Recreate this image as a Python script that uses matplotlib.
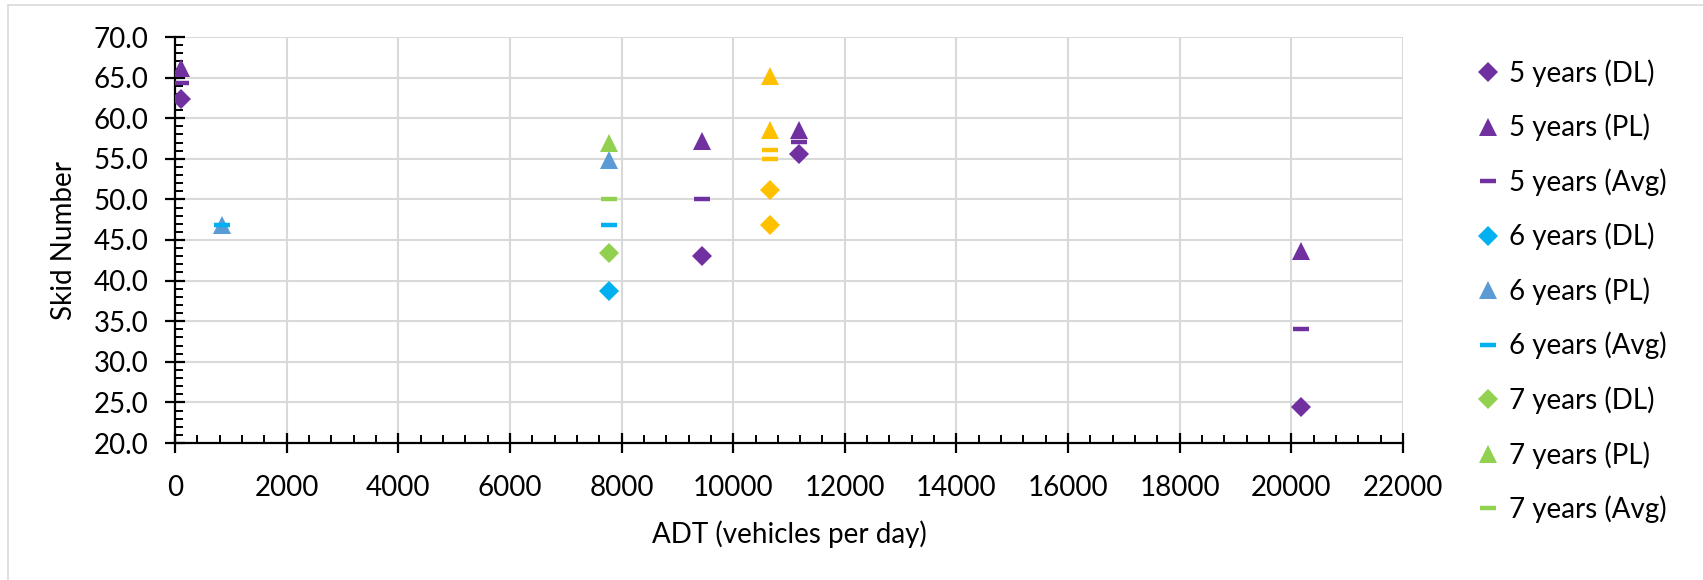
import matplotlib
matplotlib.use("Agg")
import matplotlib.pyplot as plt
from matplotlib.patches import Rectangle
from matplotlib.ticker import MultipleLocator, FormatStrFormatter

plt.rcParams["font.family"] = ["Lato", "DejaVu Sans"]

PURPLE = "#7030A0"
CYAN = "#00B0F0"
BLUE = "#5B9BD5"
GREEN = "#92D050"
YELLOW = "#FFC000"
NAN = float("nan")

# 5 years
adt_5 = [100, 9450, 11180, 20180]
dl_5 = [62.4, 43.0, 55.6, 24.4]
pl_5 = [66.2, 57.2, 58.6, 43.6]
avg_5 = [64.3, 50.1, 57.1, 34.0]

# 6 years
adt_6 = [850, 7770]
dl_6 = [NAN, 38.7]
pl_6 = [46.8, 54.8]
avg_6 = [46.8, 46.8]

# 7 years
adt_7 = [7770]
dl_7 = [43.4]
pl_7 = [56.9]
avg_7 = [50.1]

# series beyond the visible legend
adt_8 = [10660, 10660]
dl_8 = [51.2, 46.8]
pl_8 = [58.6, 65.2]
avg_8 = [55.0, 56.1]

fig = plt.figure(figsize=(17.03, 5.8), dpi=100)
ax = fig.add_axes([175 / 1703, 1 - 443 / 580, (1403 - 175) / 1703, (443 - 37) / 580])

fig.patches.append(Rectangle((8 / 1703, -0.1), 1.2, 1 - 5 / 580 + 0.1, transform=fig.transFigure,
                             fill=False, edgecolor="#D9D9D9", linewidth=1.2))

ms_d, ms_t, ms_a = 10, 13, 12


def plot_group(x, dl, pl, avg, c_dl, c_pl, c_avg, name, legend=True):
    ax.plot(x, dl, "D", color=c_dl, markersize=ms_d, markeredgewidth=0, linestyle="none",
            label=f"{name} (DL)" if legend else None, zorder=3)
    ax.plot(x, pl, "^", color=c_pl, markersize=ms_t, markeredgewidth=0, linestyle="none",
            label=f"{name} (PL)" if legend else None, zorder=3)
    ax.plot(x, avg, "_", color=c_avg, markersize=ms_a, markeredgewidth=3.2, linestyle="none",
            label=f"{name} (Avg)" if legend else None, zorder=3)


plot_group(adt_5, dl_5, pl_5, avg_5, PURPLE, PURPLE, PURPLE, "5 years")
plot_group(adt_6, dl_6, pl_6, avg_6, CYAN, BLUE, CYAN, "6 years")
plot_group(adt_7, dl_7, pl_7, avg_7, GREEN, GREEN, GREEN, "7 years")
plot_group(adt_8, dl_8, pl_8, avg_8, YELLOW, YELLOW, YELLOW, "8 years", legend=False)

ax.set_xlim(0, 22000)
ax.set_ylim(20, 70)
ax.xaxis.set_major_locator(MultipleLocator(2000))
ax.xaxis.set_minor_locator(MultipleLocator(400))
ax.yaxis.set_major_locator(MultipleLocator(5))
ax.yaxis.set_minor_locator(MultipleLocator(1))
ax.yaxis.set_major_formatter(FormatStrFormatter("%.1f"))

ax.grid(True, which="major", color="#D9D9D9", linewidth=1.5, zorder=0)
ax.set_axisbelow(True)
for s in ["top", "right"]:
    ax.spines[s].set_visible(False)
for s in ["left", "bottom"]:
    ax.spines[s].set_linewidth(1.6)
    ax.spines[s].set_zorder(2)

ax.tick_params(which="major", direction="inout", length=14, width=1.6, labelsize=20)
ax.tick_params(which="minor", direction="in", length=6, width=1.4)
ax.tick_params(axis="y", which="major", pad=12)
ax.tick_params(axis="x", which="major", pad=16)

ax.set_xlabel("ADT (vehicles per day)", fontsize=20, labelpad=14)
ax.set_ylabel("Skid Number", fontsize=20, labelpad=12)

ax.legend(loc="upper left", bbox_to_anchor=(1466 / 1703, 1 - 48 / 580), bbox_transform=fig.transFigure,
          frameon=False, fontsize=20, labelspacing=0.97, handlelength=0.8, handletextpad=0.35,
          borderaxespad=0)

fig.savefig("out.png", dpi=100, facecolor="white")
